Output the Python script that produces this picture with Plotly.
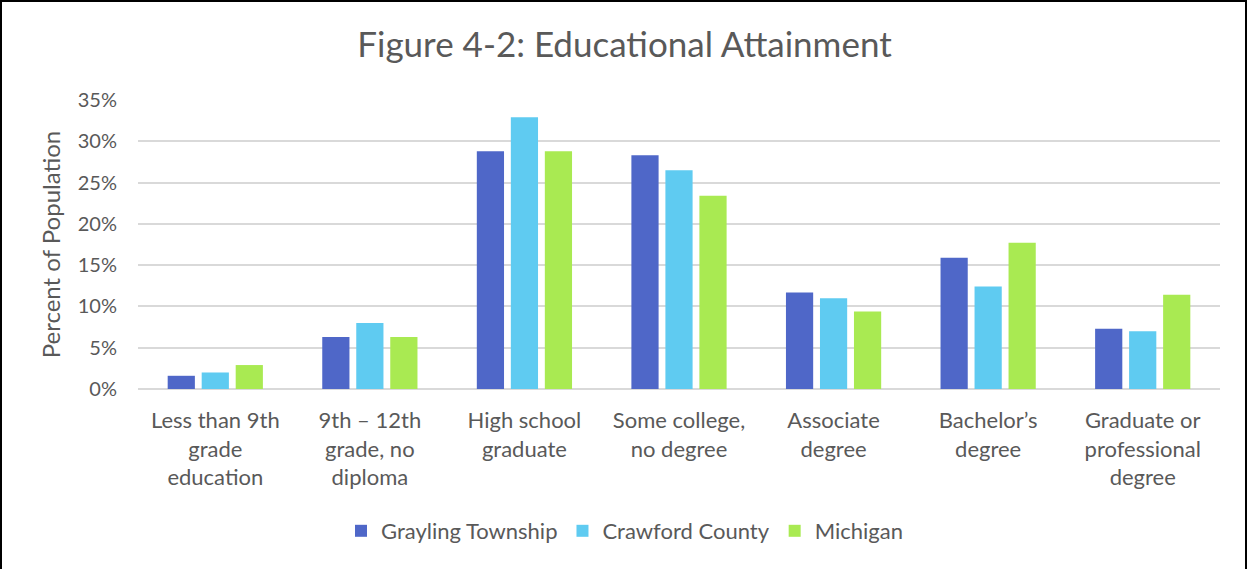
import plotly.graph_objects as go

categories = ["Less than 9th<br>grade<br>education", "9th – 12th<br>grade, no<br>diploma",
              "High school<br>graduate", "Some college,<br>no degree", "Associate<br>degree",
              "Bachelor’s<br>degree", "Graduate or<br>professional<br>degree"]
grayling = [1.6, 6.3, 28.8, 28.3, 11.7, 15.9, 7.3]
crawford = [2.0, 8.0, 32.9, 26.5, 11.0, 12.4, 7.0]
michigan = [2.9, 6.3, 28.8, 23.4, 9.4, 17.7, 11.4]
series_names = ["Grayling Township", "Crawford County", "Michigan"]
colors = ["#4F67C8", "#5FCBF1", "#A9EA52"]

W, H = 1249, 569
ML, MR, MT, MB = 138, 29, 100, 180
FONT = "Lato"
TXT = "#595959"

fig = go.Figure()
for name, vals, c in zip(series_names, [grayling, crawford, michigan], colors):
    fig.add_trace(go.Bar(x=categories, y=vals, name=name, marker_color=c,
                         marker_line_width=0))

pw = W - ML - MR
ph = H - MT - MB
def px_x(x):
    return (x - ML) / pw
def px_y(y):
    return (H - MB - y) / ph

fig.add_shape(type="path", xref="paper", yref="paper",
              path=f"M {px_x(1)} {px_y(H+5)} L {px_x(1)} {px_y(1)} L {px_x(W-3)} {px_y(1)} L {px_x(W-3)} {px_y(H+5)}",
              line=dict(color="black", width=2))

fig.update_layout(
    width=W, height=H,
    margin=dict(l=ML, r=MR, t=MT, b=MB, autoexpand=False),
    paper_bgcolor="white", plot_bgcolor="white",
    font=dict(family=FONT, color=TXT, size=20),
    title=dict(text="Figure 4-2: Educational Attainment", x=0.5, xref="container",
               xanchor="center", y=1 - 45 / H, yanchor="middle",
               font=dict(size=35, color=TXT, family=FONT)),
    barmode="group", bargap=0.34, bargroupgap=0.2,
    showlegend=True,
    legend=dict(orientation="h", x=0.5, xanchor="center", xref="container",
                y=1 - 531 / H, yanchor="middle", yref="container",
                font=dict(size=22, color=TXT, family=FONT), traceorder="normal"),
    xaxis=dict(showgrid=False, showline=False, ticks="", tickfont=dict(size=22, color=TXT),
               ticklabelstandoff=16),
    yaxis=dict(range=[0, 35], dtick=5, ticksuffix="%", showgrid=True,
               gridcolor="#D9D9D9", gridwidth=1.5, zeroline=True, zerolinecolor="#D9D9D9",
               zerolinewidth=1.5, showline=False, ticks="", ticklabelstandoff=20,
               tickfont=dict(size=20, color=TXT),
               title=dict(text="Percent of Population", font=dict(size=24, color=TXT),
                          standoff=10)),
)

fig.write_html("out.html", config={"displayModeBar": False},
               post_script="document.body.style.margin='0';")
